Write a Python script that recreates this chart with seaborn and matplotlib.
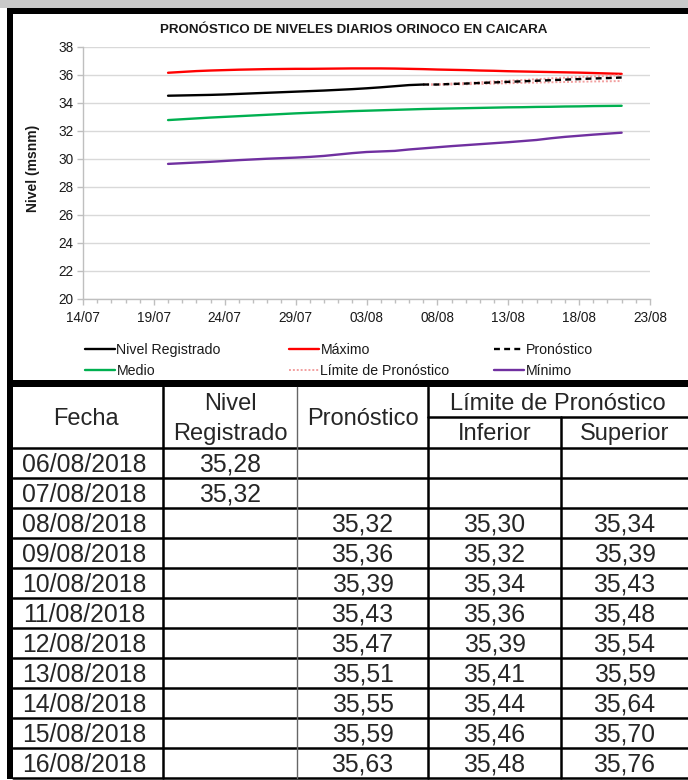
import numpy as np
import pandas as pd
import matplotlib
matplotlib.use('Agg')
import matplotlib.pyplot as plt
import matplotlib.dates as mdates
from matplotlib.patches import Rectangle
from matplotlib.lines import Line2D
import seaborn as sns

# ---------------- data ----------------
series_start = '2018-07-20'
registrado = [34.52, 34.54, 34.56, 34.58, 34.61, 34.65, 34.69, 34.73, 34.77, 34.81,
              34.85, 34.89, 34.94, 34.99, 35.05, 35.12, 35.20, 35.28, 35.32]
maximo = [36.16, 36.22, 36.28, 36.32, 36.35, 36.38, 36.40, 36.42, 36.43, 36.44, 36.44,
          36.45, 36.46, 36.47, 36.47, 36.47, 36.46, 36.44, 36.42, 36.39, 36.37, 36.35,
          36.32, 36.30, 36.27, 36.25, 36.23, 36.21, 36.19, 36.17, 36.14, 36.11, 36.08]
medio = [32.78, 32.84, 32.90, 32.96, 33.01, 33.06, 33.11, 33.16, 33.21, 33.26, 33.30,
         33.34, 33.38, 33.42, 33.45, 33.48, 33.51, 33.54, 33.57, 33.59, 33.61, 33.63,
         33.65, 33.67, 33.69, 33.70, 33.72, 33.73, 33.75, 33.76, 33.78, 33.79, 33.80]
minimo = [29.65, 29.70, 29.75, 29.80, 29.86, 29.92, 29.97, 30.02, 30.06, 30.10, 30.15,
          30.22, 30.32, 30.42, 30.50, 30.54, 30.58, 30.68, 30.76, 30.84, 30.92, 30.99,
          31.06, 31.13, 31.20, 31.28, 31.36, 31.48, 31.58, 31.66, 31.74, 31.81, 31.88]
pron_start = '2018-08-08'
pronostico = [35.32, 35.36, 35.39, 35.43, 35.47, 35.51, 35.55, 35.59, 35.63,
              35.67, 35.71, 35.75, 35.78, 35.82]
lim_inf = [35.30, 35.32, 35.34, 35.36, 35.39, 35.41, 35.44, 35.46, 35.48,
           35.50, 35.52, 35.54, 35.55, 35.57]
lim_sup = [35.34, 35.39, 35.43, 35.48, 35.54, 35.59, 35.64, 35.70, 35.76,
           35.81, 35.86, 35.90, 35.94, 35.98]
axis_start, axis_end = '2018-07-14', '2018-08-23'
table_first, table_last = '2018-08-06', '2018-08-16'
title = 'PRONÓSTICO DE NIVELES DIARIOS ORINOCO EN CAICARA'
ylabel = 'Nivel (msnm)'
labels = ['Nivel Registrado', 'Máximo', 'Pronóstico', 'Medio', 'Límite de Pronóstico', 'Mínimo']
header = ['Fecha', 'Nivel\nRegistrado', 'Pronóstico', 'Límite de Pronóstico', 'Inferior', 'Superior']

# ---------------- frames ----------------
d_all = pd.date_range(series_start, periods=len(maximo), freq='D')
d_reg = pd.date_range(series_start, periods=len(registrado), freq='D')
d_pron = pd.date_range(pron_start, periods=len(pronostico), freq='D')
reg_s = pd.Series(registrado, index=d_reg)
pron_df = pd.DataFrame({'p': pronostico, 'i': lim_inf, 's': lim_sup}, index=d_pron)
# connect forecast to last registered point
conn = pd.DataFrame({'p': [registrado[-1]], 'i': [registrado[-1]], 's': [registrado[-1]]},
                    index=[d_reg[-1]])
pron_plot = pd.concat([conn, pron_df])

sns.set_theme(style='white')
plt.rcParams['font.family'] = ['Liberation Sans', 'DejaVu Sans']

W, H = 688, 780
fig = plt.figure(figsize=(W / 100, H / 100), dpi=100)
fig.patch.set_facecolor('white')

bg = fig.add_axes([0, 0, 1, 1])
bg.set_xlim(0, W)
bg.set_ylim(H, 0)
bg.axis('off')
bg.set_zorder(0)

# top banner strip
bg.add_patch(Rectangle((0, 0), W, 8, color='#c9c9c9', lw=0))
# chart frame (thick black)
bg.add_patch(Rectangle((7, 8), 6, 771, color='black', lw=0))
bg.add_patch(Rectangle((7, 8), W, 6, color='black', lw=0))
bg.add_patch(Rectangle((7, 380), W, 7, color='black', lw=0))

# ---------------- chart ----------------
ax = fig.add_axes([83 / W, 1 - 299 / H, 567 / W, 252 / H])
ax.set_zorder(1)
ax.set_facecolor('none')

lw = 1.7
sns.lineplot(x=d_all, y=minimo, ax=ax, color='#7030a0', lw=lw)
sns.lineplot(x=d_all, y=medio, ax=ax, color='#00b050', lw=lw)
sns.lineplot(x=d_all, y=maximo, ax=ax, color='#ff0000', lw=lw)
sns.lineplot(x=pron_plot.index, y=pron_plot['i'].values, ax=ax, color='#f2a0a0',
             lw=1.4, linestyle=(0, (1, 1)))
sns.lineplot(x=pron_plot.index, y=pron_plot['s'].values, ax=ax, color='#f2a0a0',
             lw=1.4, linestyle=(0, (1, 1)))
sns.lineplot(x=pron_plot.index, y=pron_plot['p'].values, ax=ax, color='black',
             lw=lw, linestyle=(0, (2.5, 1.8)))
sns.lineplot(x=d_reg, y=registrado, ax=ax, color='black', lw=lw)

ax.set_xlim(pd.Timestamp(axis_start), pd.Timestamp(axis_end))
ax.set_ylim(20, 38)
ax.set_yticks(np.arange(20, 39, 2))
ax.set_xticks(pd.date_range(axis_start, axis_end, freq='5D'))
ax.xaxis.set_major_formatter(mdates.DateFormatter('%d/%m'))
ax.set_xticks(pd.date_range(axis_start, axis_end, freq='D'), minor=True)
ax.yaxis.grid(True, color='#d9d9d9', lw=1)
ax.xaxis.grid(False)
for s in ['top', 'right']:
    ax.spines[s].set_visible(False)
for s in ['left', 'bottom']:
    ax.spines[s].set_color('#bfbfbf')
    ax.spines[s].set_linewidth(1)
ax.tick_params(axis='both', which='both', bottom=True, left=True, direction='out',
               color='#bfbfbf', width=1)
ax.tick_params(axis='x', which='major', length=4, pad=5, labelsize=9.8, labelcolor='#1a1a1a')
ax.tick_params(axis='x', which='minor', length=3)
ax.tick_params(axis='y', which='major', length=4, pad=3, labelsize=9.8, labelcolor='#1a1a1a')
ax.set_xlabel('')
ax.set_ylabel('')

fig.text(354 / W, 1 - 30 / H, title, ha='center', va='center', fontsize=9.6,
         fontweight='bold', color='#1a1a1a')
fig.text(33 / W, 1 - 168 / H, ylabel, ha='center', va='center', rotation=90,
         fontsize=10, fontweight='bold', color='#1a1a1a')

# legend: three columns of two entries
h_reg = Line2D([], [], color='black', lw=lw)
h_max = Line2D([], [], color='#ff0000', lw=lw)
h_pron = Line2D([], [], color='black', lw=lw, linestyle=(0, (2.5, 1.8)))
h_med = Line2D([], [], color='#00b050', lw=lw)
h_lim = Line2D([], [], color='#f2a0a0', lw=1.4, linestyle=(0, (1, 1)))
h_min = Line2D([], [], color='#7030a0', lw=lw)
cols = [([h_reg, h_med], [labels[0], labels[3]], 85),
        ([h_max, h_lim], [labels[1], labels[4]], 289),
        ([h_pron, h_min], [labels[2], labels[5]], 494)]
for hs, ls, xpx in cols:
    leg = fig.legend(hs, ls, loc='upper left', bbox_to_anchor=(xpx / W, 1 - 343 / H),
                     frameon=False, fontsize=10.2, handlelength=2.1, handletextpad=0.12,
                     labelspacing=0.48, borderpad=0, borderaxespad=0)
    for t in leg.get_texts():
        t.set_color('#1a1a1a')

# ---------------- table ----------------
col_edges = [13, 163, 297, 428, 561, W]
col_c = [(col_edges[i] + col_edges[i + 1]) / 2 for i in range(5)]
col_c[0] = 84
head_top, head_mid, head_bot = 387, 417, 448
row_h = 30
tab_dates = pd.date_range(table_first, table_last, freq='D')
n_rows = len(tab_dates)
tlw = 1.8
# horizontal lines
bg.plot([428, W], [head_mid, head_mid], color='black', lw=tlw)
for r in range(n_rows + 1):
    y = head_bot + r * row_h
    bg.plot([13, W], [y, y], color='black', lw=tlw)
# vertical lines
bottom = head_bot + n_rows * row_h
bg.plot([163, 163], [head_top, bottom], color='black', lw=tlw)
bg.plot([297, 297], [head_top, bottom], color='#666666', lw=1.0)
bg.plot([428, 428], [head_top, bottom], color='black', lw=tlw)
bg.plot([561, 561], [head_mid, bottom], color='black', lw=tlw)

fs = 17
fsv = 17.8
bg.text(86, 419, header[0], ha='center', va='center', fontsize=fs)
bg.text(col_c[1], 404, header[1].split('\n')[0], ha='center', va='center', fontsize=fs)
bg.text(col_c[1], 434, header[1].split('\n')[1], ha='center', va='center', fontsize=fs)
bg.text(col_c[2], 419, header[2], ha='center', va='center', fontsize=fs)
bg.text((428 + W) / 2, 404, header[3], ha='center', va='center', fontsize=fs)
bg.text(col_c[3], 434, header[4], ha='center', va='center', fontsize=fs)
bg.text(col_c[4], 434, header[5], ha='center', va='center', fontsize=fs)


def fmt(v):
    return f'{v:.2f}'.replace('.', ',')


for r, d in enumerate(tab_dates):
    y = head_bot + r * row_h + row_h / 2 + 1.5
    bg.text(col_c[0], y, d.strftime('%d/%m/%Y'), ha='center', va='center', fontsize=fsv)
    if d in reg_s.index:
        bg.text(col_c[1], y, fmt(reg_s[d]), ha='center', va='center', fontsize=fsv)
    if d in pron_df.index:
        bg.text(col_c[2], y, fmt(pron_df.loc[d, 'p']), ha='center', va='center', fontsize=fsv)
        bg.text(col_c[3], y, fmt(pron_df.loc[d, 'i']), ha='center', va='center', fontsize=fsv)
        bg.text(col_c[4], y, fmt(pron_df.loc[d, 's']), ha='center', va='center', fontsize=fsv)

fig.savefig('out.png', dpi=100, facecolor='white')
